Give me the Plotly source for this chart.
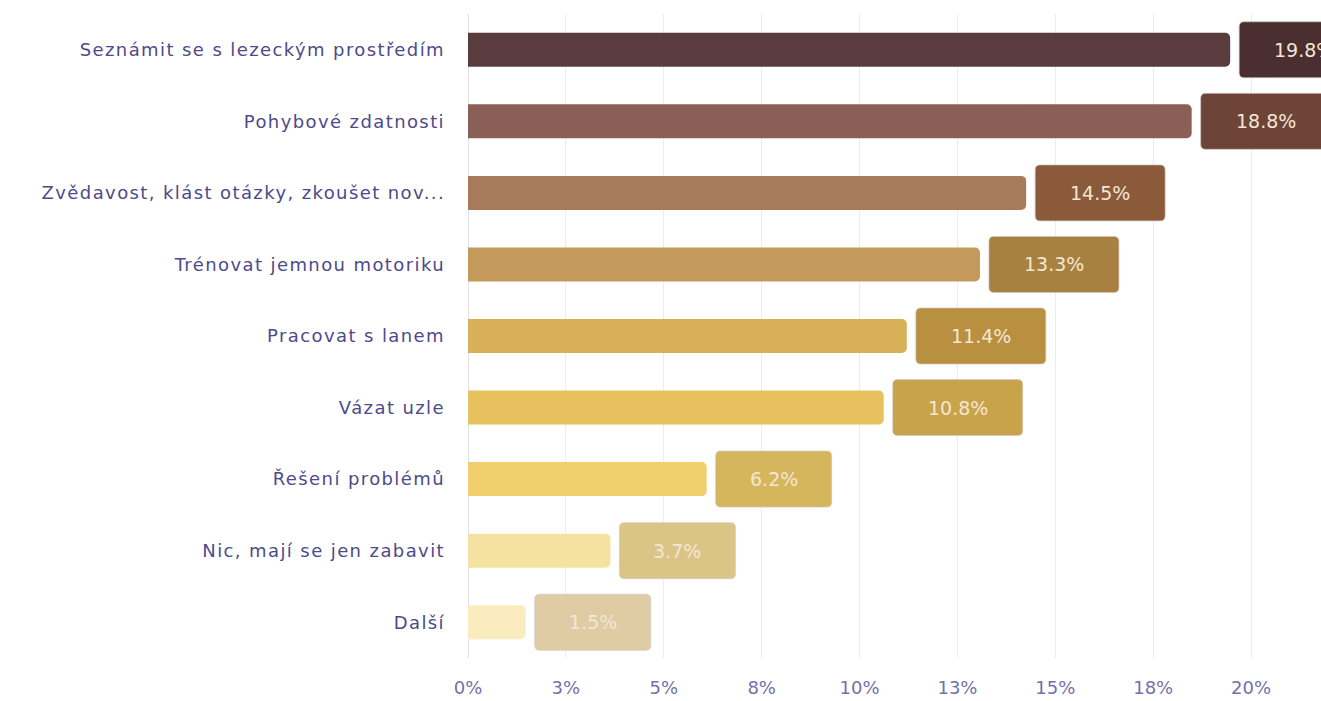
import plotly.graph_objects as go

# Survey answers, top to bottom
categories = [
    "Seznámit se s lezeckým prostředím",
    "Pohybové zdatnosti",
    "Zvědavost, klást otázky, zkoušet nov...",
    "Trénovat jemnou motoriku",
    "Pracovat s lanem",
    "Vázat uzle",
    "Řešení problémů",
    "Nic, mají se jen zabavit",
    "Další",
]
shares = [19.8, 18.8, 14.5, 13.3, 11.4, 10.8, 6.2, 3.7, 1.5]

bar_colors = ["#5a3c3e", "#8a5f55", "#a87a5c", "#c39a5c", "#d9b05a",
              "#e6c15e", "#f0cf6c", "#f6e2a0", "#fbecc0"]
badge_colors = ["#4b2f30", "#6f4438", "#8a5a3a", "#a8803f", "#b9903f",
                "#c9a34a", "#d6b65c", "#dbc586", "#dfcca4"]

tick_values = [0, 2.543, 5.086, 7.629, 10.172, 12.715, 15.258, 17.801, 20.344]
tick_labels = ["0%", "3%", "5%", "8%", "10%", "13%", "15%", "18%", "20%"]

FONT = "DejaVu Sans"

fig = go.Figure(
    go.Bar(
        x=shares,
        y=categories,
        orientation="h",
        marker=dict(color=bar_colors, cornerradius=5, line=dict(width=0)),
        hoverinfo="skip",
    )
)


def rounded_rect(x0, x1, y0, y1, r):
    return (
        f"M {x0 + r},{y0} L {x1 - r},{y0} Q {x1},{y0} {x1},{y0 + r} "
        f"L {x1},{y1 - r} Q {x1},{y1} {x1 - r},{y1} L {x0 + r},{y1} "
        f"Q {x0},{y1} {x0},{y1 - r} L {x0},{y0 + r} Q {x0},{y0} {x0 + r},{y0} Z"
    )


gap = 9
half_h = 28
for cat, val, col in zip(categories, shares, badge_colors):
    text = f"{val:.1f}%"
    w = 130 if len(text) >= 5 else 116
    fig.add_shape(
        type="path",
        xref="x", yref="y",
        xsizemode="pixel", ysizemode="pixel",
        xanchor=val, yanchor=cat,
        path=rounded_rect(gap, gap + w, -half_h, half_h, 5),
        fillcolor=col,
        line=dict(color="rgba(205,200,195,0.7)", width=1),
        layer="above",
    )
    fig.add_annotation(
        x=val, y=cat, xref="x", yref="y",
        text=text, showarrow=False,
        xanchor="center", yanchor="middle",
        xshift=gap + w / 2,
        font=dict(family=FONT, size=19, color="#f3e6d4"),
    )

fig.update_layout(
    width=1321,
    height=701,
    margin=dict(l=468, r=0, t=14, b=43),
    paper_bgcolor="white",
    plot_bgcolor="white",
    bargap=0.525,
    showlegend=False,
    xaxis=dict(
        range=[0, 22.16],
        tickvals=tick_values,
        ticktext=tick_labels,
        showgrid=True,
        gridcolor="#ececf0",
        gridwidth=1,
        zeroline=True,
        zerolinecolor="#dde0ea",
        zerolinewidth=1,
        showline=False,
        ticks="",
        ticklabelstandoff=17,
        tickfont=dict(family=FONT, size=18, color="#7470aa"),
        fixedrange=True,
    ),
    yaxis=dict(
        categoryorder="array",
        categoryarray=categories,
        range=[8.5, -0.5],
        showgrid=False,
        zeroline=False,
        showline=False,
        ticks="",
        ticklabelstandoff=22,
        tickfont=dict(family=FONT, size=18, color="#4e4a8a"),
        fixedrange=True,
    ),
)

# Wider tracking on the category labels
spacing_js = (
    "document.querySelectorAll('.ytick text').forEach(function(t){"
    "t.style.letterSpacing='1.4px';});"
)

fig.write_html("out.html", post_script=spacing_js)
